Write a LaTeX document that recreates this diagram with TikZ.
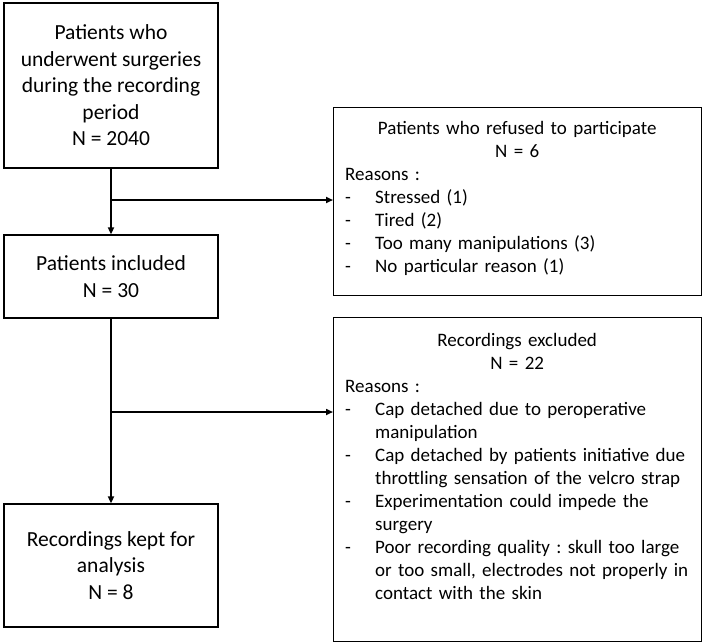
\documentclass[tikz,border=0pt]{standalone}
\usepackage{fontspec}
\setmainfont{Carlito}
\usetikzlibrary{arrows.meta,calc}
\frenchspacing
\begin{document}
\begin{tikzpicture}[x=1pt,y=1pt,
  leftbox/.style={draw, line width=1.2pt, minimum width=214pt, align=center, inner sep=0pt,
    font=\fontsize{21.5}{26.5}\selectfont},
  rightbox/.style={draw, line width=1.2pt, minimum width=368pt, inner sep=0pt, anchor=north west},
  righttext/.style={anchor=north west, inner sep=0pt, align=left, text width=344pt,
    font=\fontsize{19}{23}\selectfont},
  arr/.style={line width=1.6pt, -{Triangle[length=7pt,width=6pt]}},
  ]
\useasboundingbox (0,0) rectangle (702,-643);
\newcommand{\ttl}[1]{\makebox[344pt]{#1}}
\newcommand{\itm}[1]{\makebox[30pt][l]{-}#1}
\newcommand{\cnt}[1]{\hspace*{30pt}#1}

\node[leftbox, minimum height=165pt] (A) at (111,-85.5)
  {Patients who\\underwent surgeries\\during the recording\\period\\N = 2040};
\node[leftbox, minimum height=83pt] (B) at (111,-276.5)
  {Patients included\\N = 30};
\node[leftbox, minimum height=123pt] (C) at (111,-565.5)
  {Recordings kept for\\analysis\\N = 8};

\node[rightbox, minimum height=188pt] (R1) at (333,-107) {};
\node[rightbox, minimum height=324pt] (R2) at (333,-317) {};

\node[righttext] (R1t) at (345,-121)
  {\ttl{Patients who refused to participate}\\
   \ttl{N = 6}\\
   Reasons :\\
   \itm{Stressed (1)}\\
   \itm{Tired (2)}\\
   \itm{Too many manipulations (3)}\\
   \itm{No particular reason (1)}};

\node[righttext] (R2t) at (345,-333)
  {\ttl{Recordings excluded}\\
   \ttl{N = 22}\\
   Reasons :\\
   \itm{Cap detached due to peroperative}\\
   \cnt{manipulation}\\
   \itm{Cap detached by patients initiative due}\\
   \cnt{throttling sensation of the velcro strap}\\
   \itm{Experimentation could impede the}\\
   \cnt{surgery}\\
   \itm{Poor recording quality : skull too large}\\
   \cnt{or too small, electrodes not properly in}\\
   \cnt{contact with the skin}};

\coordinate (j1) at (111,-200);
\coordinate (j2) at (111,-412);
\draw[arr] (A.south) -- (B.north);
\draw[arr] (B.south) -- (C.north);
\draw[arr] (j1) -- (j1 -| R1.west);
\draw[arr] (j2) -- (j2 -| R2.west);
\end{tikzpicture}
\end{document}
